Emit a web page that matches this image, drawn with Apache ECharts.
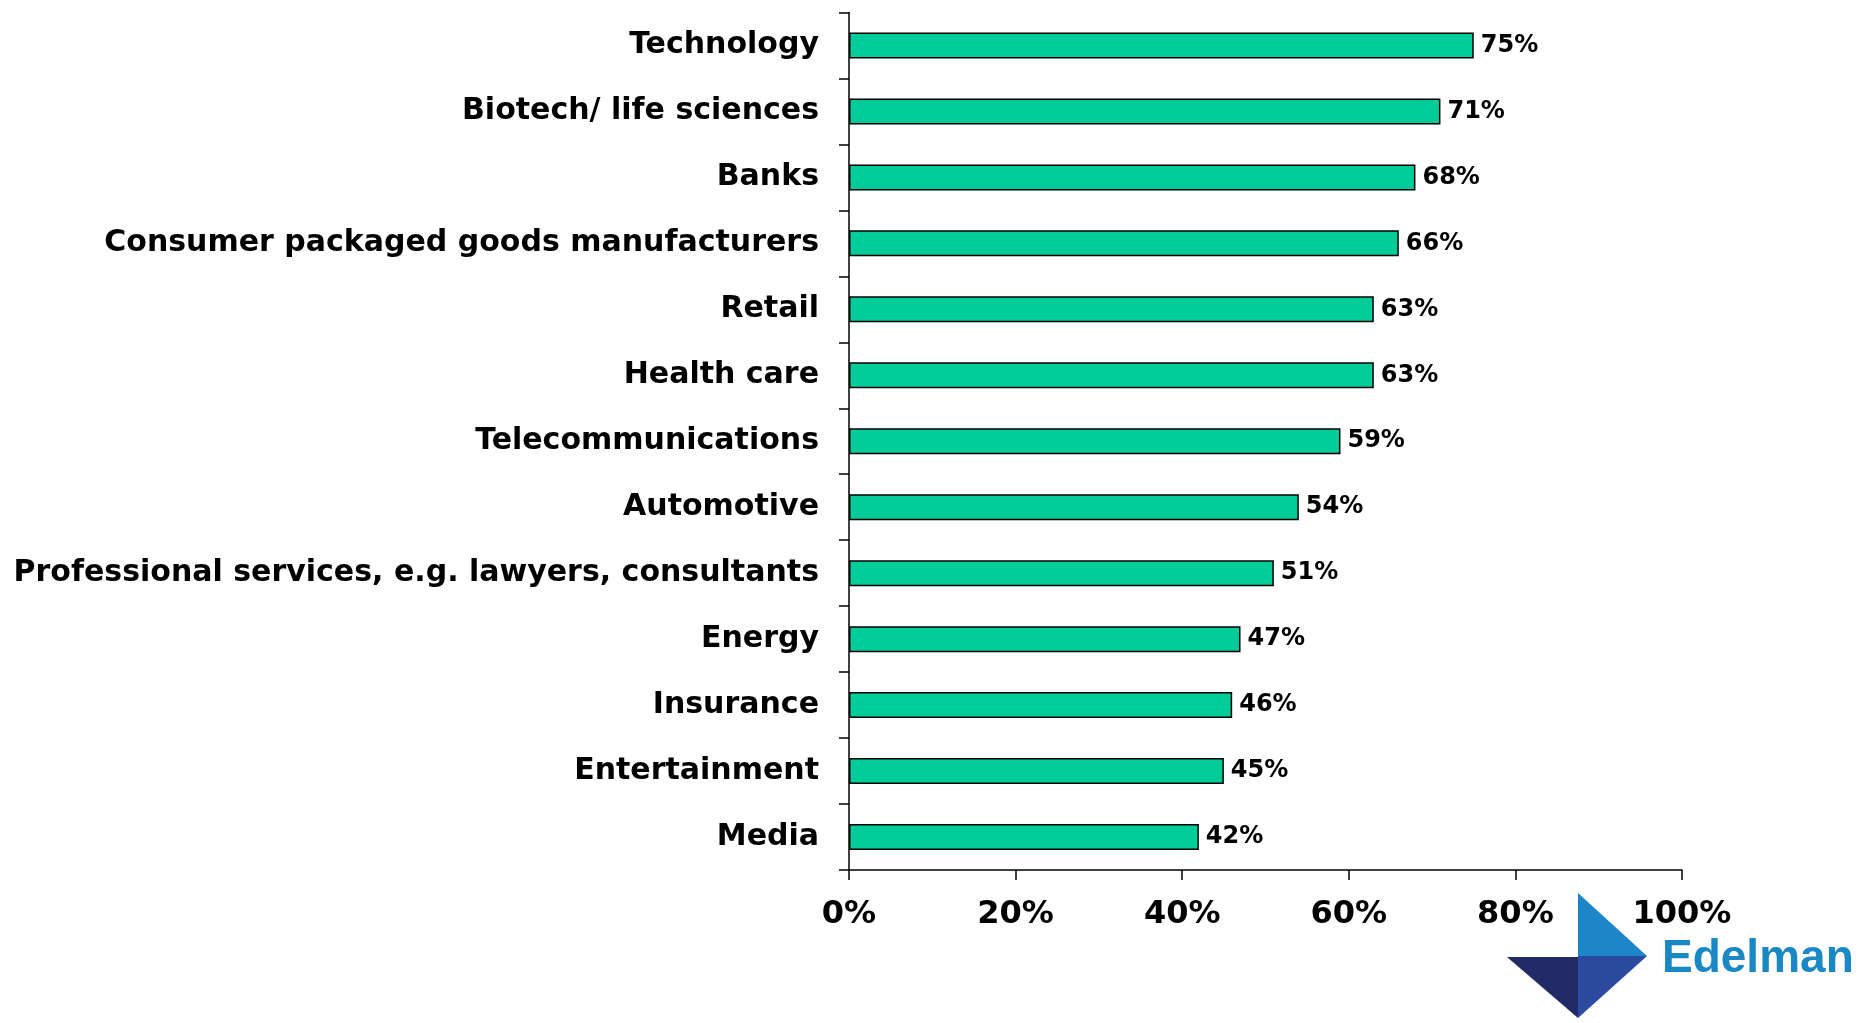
<!DOCTYPE html>
<html>
<head>
<meta charset="utf-8">
<script src="https://cdn.jsdelivr.net/npm/echarts@6/dist/echarts.min.js"></script>
<style>
  html, body { margin: 0; padding: 0; background: #ffffff; }
  #chart { width: 1864px; height: 1023px; }
</style>
</head>
<body>
<div id="chart"></div>
<script>
// Industry sectors, top to bottom
const categories = [
  'Technology',
  'Biotech/ life sciences',
  'Banks',
  'Consumer packaged goods manufacturers',
  'Retail',
  'Health care',
  'Telecommunications',
  'Automotive',
  'Professional services, e.g. lawyers, consultants',
  'Energy',
  'Insurance',
  'Entertainment',
  'Media'
];

// Share of respondents (%) per sector
const values = [75, 71, 68, 66, 63, 63, 59, 54, 51, 47, 46, 45, 42];

// Value axis ticks
const axisMin = 0;
const axisMax = 100;
const axisStep = 20;

const chart = echarts.init(document.getElementById('chart'), null, { renderer: 'canvas' });

const FONT = '"DejaVu Sans", Verdana, sans-serif';

chart.setOption({
  animation: false,
  backgroundColor: '#ffffff',
  grid: { left: 849, right: 182, top: 12.5, bottom: 153, containLabel: false },
  xAxis: {
    type: 'value',
    min: axisMin,
    max: axisMax,
    interval: axisStep,
    axisLine: { show: true, lineStyle: { color: '#000', width: 1.5 } },
    axisTick: { show: true, length: 10, lineStyle: { color: '#000', width: 1.5 } },
    splitLine: { show: false },
    axisLabel: {
      margin: 29,
      formatter: v => v + '%',
      color: '#000',
      fontFamily: FONT,
      fontWeight: 'bold',
      fontSize: 32
    }
  },
  yAxis: {
    type: 'category',
    data: categories,
    inverse: true,
    axisLine: { show: true, lineStyle: { color: '#000', width: 1.5 } },
    axisTick: { show: true, length: 10, alignWithLabel: false, lineStyle: { color: '#000', width: 1.5 } },
    axisLabel: {
      margin: 30,
      color: '#000',
      fontFamily: FONT,
      fontWeight: 'bold',
      fontSize: 30
    }
  },
  series: [{
    type: 'bar',
    data: values,
    barWidth: 26,
    itemStyle: { color: '#00CC99', borderColor: '#000', borderWidth: 1.5 },
    label: {
      show: true,
      position: 'right',
      distance: 7,
      formatter: p => p.value + '%',
      color: '#000',
      fontFamily: FONT,
      fontWeight: 'bold',
      fontSize: 24
    }
  }],
  graphic: [
    // Edelman logo mark
    { type: 'polygon', z: 0, shape: { points: [[1578, 893], [1647, 956], [1578, 956]] }, style: { fill: '#1c86c8' } },
    { type: 'polygon', z: 0, shape: { points: [[1507, 957], [1578, 957], [1578, 1018]] }, style: { fill: '#222a66' } },
    { type: 'polygon', z: 0, shape: { points: [[1578, 956], [1647, 956], [1578, 1018]] }, style: { fill: '#2c4ba0' } },
    {
      type: 'text', z: 0, left: 1662, top: 936,
      style: { text: 'Edelman', fill: '#1a88c4', font: 'bold 46px "Liberation Sans", Arial, sans-serif' }
    }
  ]
});
</script>
</body>
</html>
